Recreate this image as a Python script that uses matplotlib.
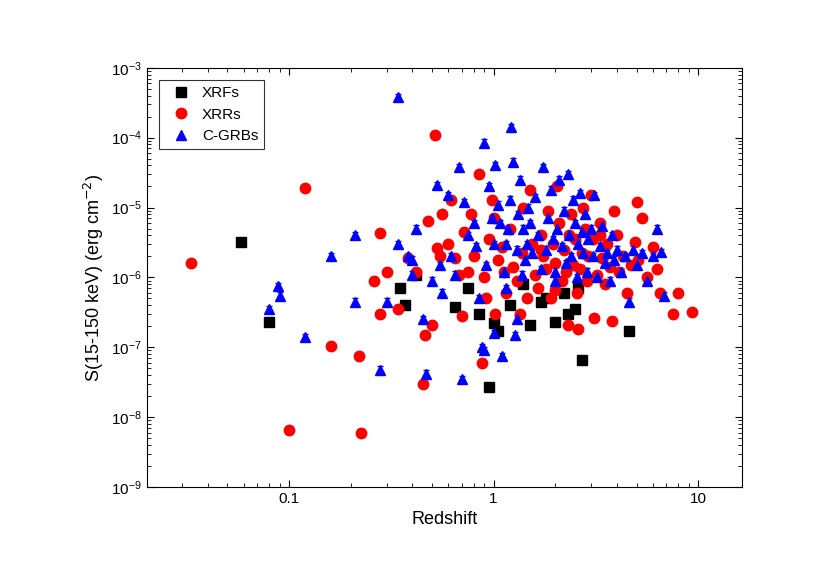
import matplotlib
matplotlib.use("Agg")
import matplotlib.pyplot as plt
from matplotlib.ticker import FixedLocator, FixedFormatter, LogLocator, NullFormatter

xrf_z = [0.058,0.08,0.35,0.37,0.42,0.65,0.75,0.85,0.95,1.0,1.05,1.2,1.4,1.5,1.7,2.0,2.2,2.5,2.6,2.7,4.6,1.8,2.3]
xrf_s = [3.2e-6,2.3e-7,7e-7,4e-7,1.1e-6,3.8e-7,7e-7,3e-7,2.7e-8,2.2e-7,1.7e-7,4e-7,8e-7,2.1e-7,4.5e-7,2.3e-7,6e-7,3.5e-7,7e-7,6.5e-8,1.7e-7,5e-7,3e-7]

xrr = [(0.033,1.6e-6),(0.1,6.5e-9),(0.12,1.9e-5),(0.16,1.05e-7),(0.22,7.5e-8),(0.225,6e-9),(0.26,9e-7),(0.28,4.3e-6),(0.28,3e-7),(0.3,1.2e-6),(0.38,1.9e-6),(0.42,1.2e-6),(0.45,3e-8),(0.46,1.5e-7),(0.48,6.5e-6),(0.5,2.1e-7),(0.52,1.1e-4),(0.53,2.6e-6),(0.55,2e-6),(0.56,8e-6),(0.6,3e-6),(0.62,1.3e-5),(0.65,1.9e-6),(0.68,1.1e-6),(0.7,2.8e-7),(0.72,4.5e-6),(0.75,1.2e-6),(0.78,8e-6),(0.8,2e-6),(0.85,3e-5),(0.88,6e-8),(0.9,1e-6),(0.92,5e-7),(0.95,3.5e-6),(0.98,1.3e-5),(1.0,7e-6),(1.02,3e-7),(1.05,1.8e-6),(1.1,2.7e-6),(1.12,1.2e-6),(1.15,6e-7),(1.2,5e-6),(1.25,1.4e-6),(1.3,9e-7),(1.35,3e-7),(1.38,2.2e-6),(1.4,1e-5),(1.45,5e-7),(1.5,1.8e-5),(1.55,3e-6),(1.6,1.1e-6),(1.65,7e-7),(1.7,4e-6),(1.75,2e-6),(1.8,1.3e-6),(1.85,9e-6),(1.9,5e-7),(1.95,3e-6),(2.0,1.6e-6),(2.05,2e-5),(2.1,6e-6),(2.15,9e-7),(2.2,2.5e-6),(2.25,1.2e-6),(2.3,2.1e-7),(2.35,4e-6),(2.4,8e-6),(2.45,1.5e-6),(2.5,3.5e-6),(2.55,6e-7),(2.6,1.8e-7),(2.65,1.3e-6),(2.7,2.2e-6),(2.75,1e-5),(2.8,5e-6),(2.85,9e-7),(2.9,2e-6),(3.0,1.5e-5),(3.05,3.5e-6),(3.1,2.6e-7),(3.2,1.1e-6),(3.3,6e-6),(3.4,1.9e-6),(3.5,8e-7),(3.6,3e-6),(3.7,1.4e-6),(3.8,2.4e-7),(3.9,9e-6),(4.0,4e-6),(4.1,1.2e-6),(4.3,2e-6),(4.5,6e-7),(4.7,1.5e-6),(4.9,3.2e-6),(5.0,1.2e-5),(5.1,1.8e-6),(5.3,7e-6),(5.6,1e-6),(6.0,2.7e-6),(6.3,1.3e-6),(6.5,6e-7),(7.5,3e-7),(8.0,6e-7),(9.3,3.2e-7),(3.3,4e-6),(2.0,6.5e-7),(1.7,2.5e-6),(0.34,3.5e-7)]
xrr_z = [p[0] for p in xrr]
xrr_s = [p[1] for p in xrr]

cgrb = [(0.08,3.5e-7),(0.088,7.5e-7),(0.09,5.5e-7),(0.12,1.4e-7),(0.16,2e-6),(0.21,4e-6),(0.21,4.5e-7),(0.28,4.8e-8),(0.3,4.5e-7),(0.34,3.8e-4),(0.34,3e-6),(0.38,2e-6),(0.4,1.1e-6),(0.42,5e-6),(0.45,2.5e-7),(0.47,4.2e-8),(0.5,9e-7),(0.53,2.1e-5),(0.56,6e-7),(0.6,1.5e-5),(0.62,2e-6),(0.65,1.1e-6),(0.68,3.8e-5),(0.7,3.5e-8),(0.72,1.2e-5),(0.75,4e-6),(0.8,6e-6),(0.82,2.8e-6),(0.85,5e-7),(0.88,1e-7),(0.9,8.5e-5),(0.92,1.5e-6),(0.95,2e-5),(0.98,7e-6),(1.0,3e-6),(1.02,4e-5),(1.05,1.1e-5),(1.08,6e-6),(1.1,7.5e-8),(1.12,1.2e-6),(1.15,3e-6),(1.18,5e-6),(1.2,1.3e-5),(1.22,1.4e-4),(1.25,4.5e-5),(1.28,1.5e-7),(1.3,2.5e-6),(1.32,8e-6),(1.35,2.5e-5),(1.38,1.1e-6),(1.4,5e-6),(1.42,1.8e-6),(1.45,3e-6),(1.48,1e-5),(1.5,6e-6),(1.55,2.2e-6),(1.6,1.4e-5),(1.65,4e-6),(1.7,1.3e-6),(1.75,3.8e-5),(1.8,2.5e-6),(1.85,7e-6),(1.9,1.8e-5),(1.95,3.5e-6),(2.0,1.2e-6),(2.05,5e-6),(2.1,2.5e-5),(2.15,2.8e-6),(2.2,9e-6),(2.25,1.6e-6),(2.3,3e-5),(2.35,4e-6),(2.4,2e-6),(2.45,1.3e-5),(2.5,6e-6),(2.55,1e-6),(2.6,3e-6),(2.65,1.6e-5),(2.7,4.5e-6),(2.75,2.2e-6),(2.8,8e-6),(2.85,1.2e-6),(2.9,3.5e-6),(3.0,5e-6),(3.05,2e-6),(3.1,1.5e-5),(3.2,1e-6),(3.3,2.8e-6),(3.4,5.5e-6),(3.5,1.6e-6),(3.6,2.2e-6),(3.7,9e-7),(3.8,4e-6),(3.9,1.8e-6),(4.0,2.5e-6),(4.2,1.2e-6),(4.4,2e-6),(4.6,4.5e-7),(4.8,2.5e-6),(5.0,1.5e-6),(5.3,2.2e-6),(5.6,9e-7),(6.0,2e-6),(6.3,5e-6),(6.6,2.3e-6),(6.8,5.5e-7),(1.0,1.6e-7),(0.9,9e-8),(1.3,2.5e-7),(2.0,9e-7),(0.55,1.5e-6),(0.4,1.8e-6),(1.15,7e-7)]
cgrb_z = [p[0] for p in cgrb]
cgrb_s = [p[1] for p in cgrb]

plt.rcParams['font.family'] = ['Liberation Sans', 'DejaVu Sans']
fig = plt.figure(figsize=(8.3, 5.84), dpi=100)
ax = fig.add_axes([0.177, 0.166, 0.717, 0.718])

def draw(z, s, marker, color, label, ms):
    ax.errorbar(z, s, yerr=[[v*0.12 for v in s], [v*0.12 for v in s]], fmt='none',
                ecolor=color, elinewidth=0.8, capsize=2, zorder=2)
    ax.plot(z, s, linestyle='none', marker=marker, color=color, ms=ms, label=label, zorder=3)

draw(xrf_z, xrf_s, 's', 'black', 'XRFs', 6.5)
draw(xrr_z, xrr_s, 'o', '#ff0000', 'XRRs', 7.5)
draw(cgrb_z, cgrb_s, '^', '#0000ff', 'C-GRBs', 7.5)

ax.set_xscale('log'); ax.set_yscale('log')
ax.set_xlim(0.0202, 16.4)
ax.set_ylim(1e-9, 1e-3)
ax.xaxis.set_major_locator(FixedLocator([0.1, 1, 10]))
ax.xaxis.set_major_formatter(FixedFormatter(['0.1', '1', '10']))
ax.xaxis.set_minor_locator(LogLocator(base=10, subs=range(2, 10)))
ax.xaxis.set_minor_formatter(NullFormatter())
ax.yaxis.set_major_locator(LogLocator(base=10, numticks=10))
ax.yaxis.set_minor_locator(LogLocator(base=10, subs=range(2, 10), numticks=20))
ax.yaxis.set_minor_formatter(NullFormatter())
ax.tick_params(which='both', direction='in', top=True, right=True, labelsize=11)
ax.tick_params(which='major', length=5)
ax.tick_params(which='minor', length=3)
ax.set_xlabel('Redshift', fontsize=13)
ax.set_ylabel('S(15-150 keV) (erg cm$^{-2}$)', fontsize=13)
leg = ax.legend(loc='upper left', fontsize=11, frameon=True, fancybox=False,
                edgecolor='black', borderaxespad=0.8, handletextpad=0.4)
leg.get_frame().set_linewidth(0.8)
fig.savefig('out.png', dpi=100)
